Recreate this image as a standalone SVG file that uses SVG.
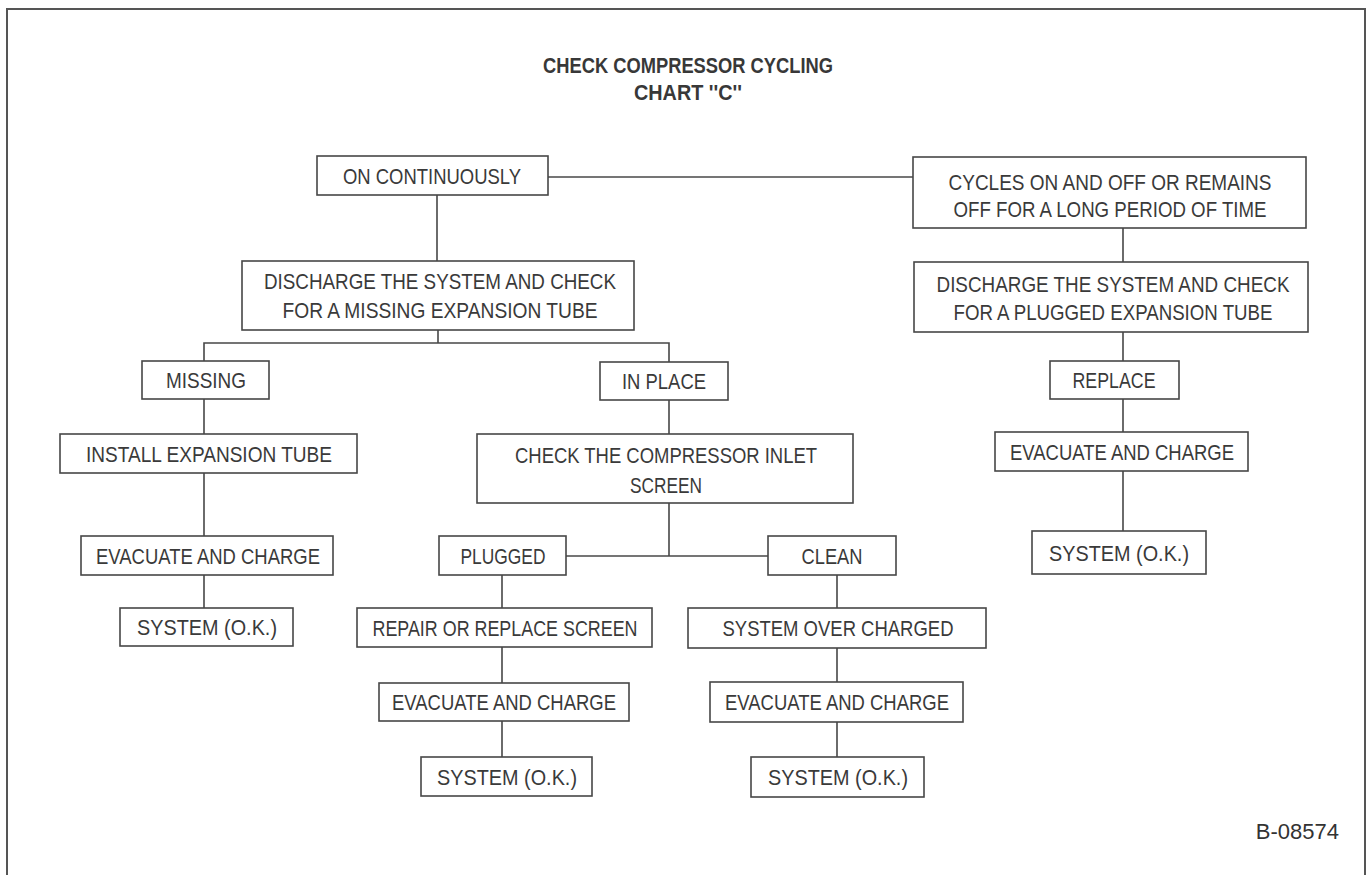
<svg xmlns="http://www.w3.org/2000/svg" width="1368" height="875" viewBox="0 0 1368 875">
<style>
.box{fill:none;stroke:#474747;stroke-width:1.6}
.t{font-family:"Liberation Sans",Arial,sans-serif;font-size:22px;fill:#3a3a3a;text-anchor:middle}
.title{font-family:"Liberation Sans",Arial,sans-serif;font-size:22px;font-weight:bold;fill:#383838;text-anchor:middle}
.con{fill:none;stroke:#474747;stroke-width:1.6}
</style>
<rect x="0" y="0" width="1368" height="875" fill="#ffffff"/>
<path d="M7,880 V9 H1365 V880" fill="none" stroke="#555" stroke-width="2"/>
<g id="title">
<text class="title" x="688" y="73" textLength="290" lengthAdjust="spacingAndGlyphs">CHECK COMPRESSOR CYCLING</text>
<text class="title" x="688" y="100" textLength="108" lengthAdjust="spacingAndGlyphs">CHART ''C''</text>
</g>
<g id="connectors">
<path class="con" d="M548,177 H913"/>
<path class="con" d="M437,195 V261"/>
<path class="con" d="M438,330 V343"/>
<path class="con" d="M204,361 V343 H669 V362"/>
<path class="con" d="M204,399 V434"/>
<path class="con" d="M204,473 V536"/>
<path class="con" d="M204,575 V608"/>
<path class="con" d="M669,400 V434"/>
<path class="con" d="M669,503 V556"/>
<path class="con" d="M566,556 H768"/>
<path class="con" d="M502,575 V608"/>
<path class="con" d="M502,647 V683"/>
<path class="con" d="M502,721 V757"/>
<path class="con" d="M837,575 V608"/>
<path class="con" d="M837,648 V682"/>
<path class="con" d="M837,722 V757"/>
<path class="con" d="M1123,228 V262"/>
<path class="con" d="M1123,332 V361"/>
<path class="con" d="M1123,399 V432"/>
<path class="con" d="M1123,471 V531"/>
</g>
<g id="on-continuously">
<rect class="box" x="317" y="156" width="231" height="39"/>
<text class="t" x="432" y="183.5" textLength="178" lengthAdjust="spacingAndGlyphs">ON CONTINUOUSLY</text>
</g>
<g id="cycles">
<rect class="box" x="913" y="157" width="393" height="71"/>
<text class="t" x="1110" y="189.5" textLength="323" lengthAdjust="spacingAndGlyphs">CYCLES ON AND OFF OR REMAINS</text>
<text class="t" x="1110" y="216.5" textLength="313" lengthAdjust="spacingAndGlyphs">OFF FOR A LONG PERIOD OF TIME</text>
</g>
<g id="discharge-missing">
<rect class="box" x="242" y="261" width="392" height="69"/>
<text class="t" x="440" y="288.5" textLength="352" lengthAdjust="spacingAndGlyphs">DISCHARGE THE SYSTEM AND CHECK</text>
<text class="t" x="440" y="317.5" textLength="315" lengthAdjust="spacingAndGlyphs">FOR A MISSING EXPANSION TUBE</text>
</g>
<g id="discharge-plugged">
<rect class="box" x="914" y="262" width="394" height="70"/>
<text class="t" x="1113" y="291.5" textLength="353" lengthAdjust="spacingAndGlyphs">DISCHARGE THE SYSTEM AND CHECK</text>
<text class="t" x="1113" y="319.5" textLength="319" lengthAdjust="spacingAndGlyphs">FOR A PLUGGED EXPANSION TUBE</text>
</g>
<g id="missing">
<rect class="box" x="142" y="361" width="127" height="38"/>
<text class="t" x="206" y="387.5" textLength="80" lengthAdjust="spacingAndGlyphs">MISSING</text>
</g>
<g id="in-place">
<rect class="box" x="600" y="362" width="128" height="38"/>
<text class="t" x="664" y="388.5" textLength="84" lengthAdjust="spacingAndGlyphs">IN PLACE</text>
</g>
<g id="replace">
<rect class="box" x="1050" y="361" width="129" height="38"/>
<text class="t" x="1114" y="387.5" textLength="83" lengthAdjust="spacingAndGlyphs">REPLACE</text>
</g>
<g id="install">
<rect class="box" x="60" y="434" width="297" height="39"/>
<text class="t" x="209" y="461.5" textLength="246" lengthAdjust="spacingAndGlyphs">INSTALL EXPANSION TUBE</text>
</g>
<g id="check-screen">
<rect class="box" x="477" y="434" width="376" height="69"/>
<text class="t" x="666" y="462.5" textLength="302" lengthAdjust="spacingAndGlyphs">CHECK THE COMPRESSOR INLET</text>
<text class="t" x="666" y="492.5" textLength="72" lengthAdjust="spacingAndGlyphs">SCREEN</text>
</g>
<g id="evacuate-right">
<rect class="box" x="995" y="432" width="253" height="39"/>
<text class="t" x="1122" y="459.5" textLength="224" lengthAdjust="spacingAndGlyphs">EVACUATE AND CHARGE</text>
</g>
<g id="evacuate-left">
<rect class="box" x="81" y="536" width="252" height="39"/>
<text class="t" x="208" y="563.5" textLength="224" lengthAdjust="spacingAndGlyphs">EVACUATE AND CHARGE</text>
</g>
<g id="plugged">
<rect class="box" x="439" y="536" width="127" height="39"/>
<text class="t" x="503" y="563.5" textLength="85" lengthAdjust="spacingAndGlyphs">PLUGGED</text>
</g>
<g id="clean">
<rect class="box" x="768" y="536" width="128" height="39"/>
<text class="t" x="832" y="563.5" textLength="61" lengthAdjust="spacingAndGlyphs">CLEAN</text>
</g>
<g id="system-ok-right">
<rect class="box" x="1032" y="531" width="174" height="43"/>
<text class="t" x="1119" y="560.5" textLength="140" lengthAdjust="spacingAndGlyphs">SYSTEM (O.K.)</text>
</g>
<g id="system-ok-left">
<rect class="box" x="120" y="608" width="173" height="38"/>
<text class="t" x="207" y="634.5" textLength="140" lengthAdjust="spacingAndGlyphs">SYSTEM (O.K.)</text>
</g>
<g id="repair-screen">
<rect class="box" x="357" y="608" width="295" height="39"/>
<text class="t" x="505" y="635.5" textLength="265" lengthAdjust="spacingAndGlyphs">REPAIR OR REPLACE SCREEN</text>
</g>
<g id="over-charged">
<rect class="box" x="688" y="608" width="298" height="40"/>
<text class="t" x="838" y="635.5" textLength="231" lengthAdjust="spacingAndGlyphs">SYSTEM OVER CHARGED</text>
</g>
<g id="evacuate-mid-left">
<rect class="box" x="379" y="683" width="250" height="38"/>
<text class="t" x="504" y="709.5" textLength="224" lengthAdjust="spacingAndGlyphs">EVACUATE AND CHARGE</text>
</g>
<g id="evacuate-mid-right">
<rect class="box" x="710" y="682" width="253" height="40"/>
<text class="t" x="837" y="709.5" textLength="224" lengthAdjust="spacingAndGlyphs">EVACUATE AND CHARGE</text>
</g>
<g id="system-ok-mid-left">
<rect class="box" x="421" y="757" width="171" height="39"/>
<text class="t" x="507" y="784.5" textLength="140" lengthAdjust="spacingAndGlyphs">SYSTEM (O.K.)</text>
</g>
<g id="system-ok-mid-right">
<rect class="box" x="751" y="757" width="173" height="40"/>
<text class="t" x="838" y="784.5" textLength="140" lengthAdjust="spacingAndGlyphs">SYSTEM (O.K.)</text>
</g>
<text x="1339" y="839" font-family="'Liberation Sans',Arial,sans-serif" font-size="22" fill="#333" text-anchor="end">B-08574</text>
</svg>
